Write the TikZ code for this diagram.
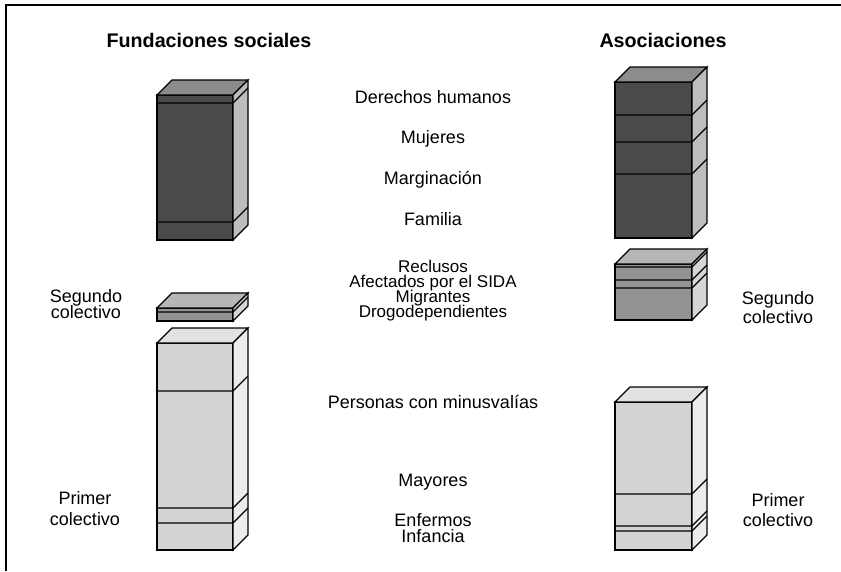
\documentclass[tikz,border=0pt]{standalone}
\usepackage{fontspec}
\setmainfont{Liberation Sans}
\definecolor{darkfront}{HTML}{4A4A4A}
\definecolor{darktop}{HTML}{8C8C8C}
\definecolor{darkside}{HTML}{BDBDBD}
\definecolor{midfront}{HTML}{939393}
\definecolor{midtop}{HTML}{B6B6B6}
\definecolor{midside}{HTML}{D6D6D6}
\definecolor{lightfront}{HTML}{D3D3D3}
\definecolor{lighttop}{HTML}{E2E2E2}
\definecolor{lightside}{HTML}{ECECEC}
% #1 x left, #2 x right, #3 y top, #4 y bottom, #5 front, #6 top, #7 side, #8 divider list
\newcommand{\myblock}[8]{%
  \def\dd{15}%
  \filldraw[fill=#5,blockline] (#1,#3) rectangle (#2,#4);
  \filldraw[fill=#6,blockline] (#1,#3) -- ++(\dd,-\dd) -- ($(#2,#3)+(\dd,-\dd)$) -- (#2,#3) -- cycle;
  \filldraw[fill=#7,blockline] (#2,#3) -- ++(\dd,-\dd) -- ($(#2,#4)+(\dd,-\dd)$) -- (#2,#4) -- cycle;
  \foreach \yy in {#8} {\draw[blockline] (#1,\yy) -- (#2,\yy) -- ++(\dd,-\dd);}
}
\usetikzlibrary{calc}
\tikzset{
  blockline/.style={draw=black,line width=1.1pt,line join=miter},
  ttl/.style={font=\fontsize{19.7}{20}\selectfont\bfseries,anchor=base,inner sep=0pt},
  lbl/.style={font=\fontsize{18}{18}\selectfont,anchor=base,inner sep=0pt},
  multi/.style 2 args={inner sep=0pt,anchor=center,align=center,
    font={\fontsize{#1}{#2}\selectfont\lineskiplimit=-100pt\lineskip=0pt}},
}
\begin{document}
\begin{tikzpicture}[x=1pt,y=-1pt]
\useasboundingbox (0,0) rectangle (841,571);
\draw[line width=2pt] (6,571) -- (6,4.5) -- (841,4.5);
% titles
\node[ttl] (t1) at (209,47) {Fundaciones sociales};
\node[ttl] (t2) at (663,47) {Asociaciones};
% left blocks
\myblock{157}{233}{95}{240}{darkfront}{darktop}{darkside}{103,222}
\myblock{157}{233}{308}{321}{midfront}{midtop}{midside}{312}
\myblock{157}{233}{343}{550}{lightfront}{lighttop}{lightside}{391,508,523}
% right blocks
\myblock{615}{692}{82}{238}{darkfront}{darktop}{darkside}{115,142,174}
\myblock{615}{692}{264}{320}{midfront}{midtop}{midside}{267,280,288}
\myblock{615}{692}{402}{550}{lightfront}{lighttop}{lightside}{494,526,531}
% center labels
\node[lbl] (c1) at (433,103) {Derechos humanos};
\node[lbl] (c2) at (433,143) {Mujeres};
\node[lbl] (c3) at (433,184) {Marginación};
\node[lbl] (c4) at (433,225) {Familia};
\node[multi={17}{15}] (c5) at (433,291)
  {Reclusos\\Afectados por el SIDA\\Migrantes\\Drogodependientes};
\node[lbl] (c9) at (433,408) {Personas con minusvalías};
\node[lbl] (c10) at (433,486) {Mayores};
\node[multi={18}{16}] (c11) at (433,528.5) {Enfermos\\Infancia};
% side labels
\node[multi={18}{16}] (l1) at (86,304.5) {Segundo\\colectivo};
\node[lbl] (l3) at (85,504) {Primer};
\node[lbl] (l4) at (85,525) {colectivo};
\node[lbl] (r1) at (778,304) {Segundo};
\node[lbl] (r2) at (778,323) {colectivo};
\node[lbl] (r3) at (778,506) {Primer};
\node[lbl] (r4) at (778,526) {colectivo};
\end{tikzpicture}
\end{document}
